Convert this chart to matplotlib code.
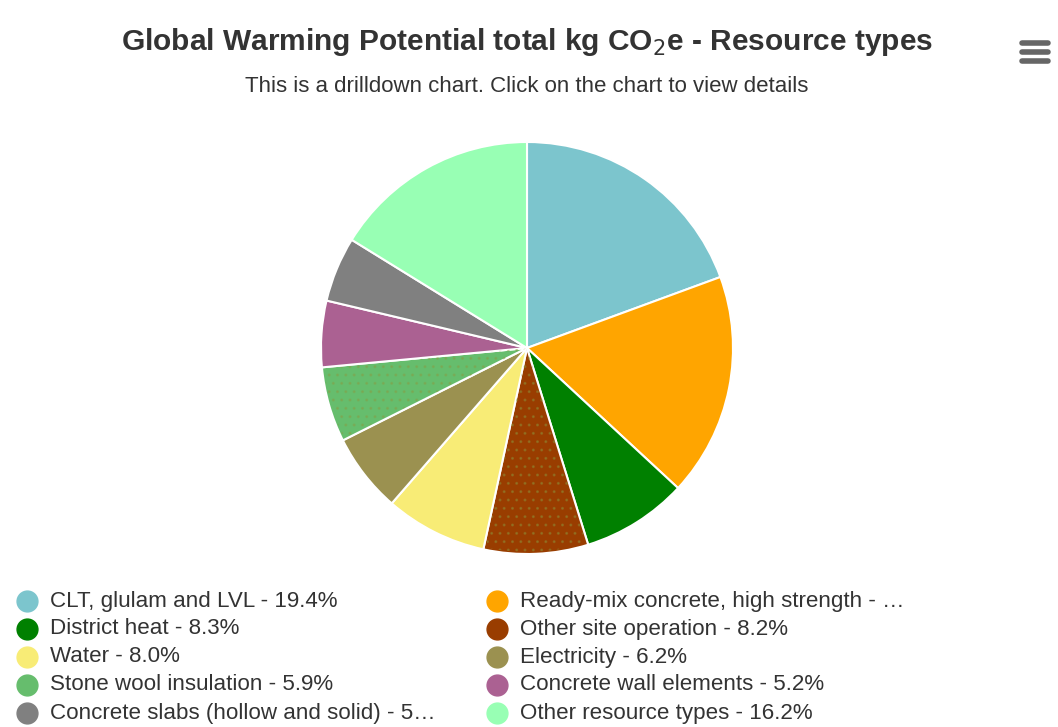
import matplotlib
matplotlib.use("Agg")
import matplotlib.pyplot as plt
from matplotlib.patches import Wedge
from matplotlib.lines import Line2D

plt.rcParams["font.family"] = ["Liberation Sans", "DejaVu Sans"]

resources = [
    "CLT, glulam and LVL",
    "Ready-mix concrete, high strength",
    "District heat",
    "Other site operation",
    "Water",
    "Electricity",
    "Stone wool insulation",
    "Concrete wall elements",
    "Concrete slabs (hollow and solid)",
    "Other resource types",
]
shares = [19.4, 17.5, 8.3, 8.2, 8.0, 6.2, 5.9, 5.2, 5.1, 16.2]
colors = ["#7cc5cd", "#ffa500", "#008000", "#993d00", "#f8ec76",
          "#9b9150", "#66bd6d", "#ab6192", "#808080", "#98ffb4"]
dotted = ["Other site operation", "Stone wool insulation"]
legend_labels = [
    "CLT, glulam and LVL - 19.4%",
    "Ready-mix concrete, high strength - \u2026",
    "District heat - 8.3%",
    "Other site operation - 8.2%",
    "Water - 8.0%",
    "Electricity - 6.2%",
    "Stone wool insulation - 5.9%",
    "Concrete wall elements - 5.2%",
    "Concrete slabs (hollow and solid) - 5\u2026",
    "Other resource types - 16.2%",
]

W, H = 1058, 727
fig = plt.figure(figsize=(W / 100, H / 100), dpi=100)

# pie area
cx, cy, r = 527, 348, 206
ax = fig.add_axes([(cx - r) / W, 1 - (cy + r) / H, 2 * r / W, 2 * r / H])
wedges, _ = ax.pie(shares, colors=colors, startangle=90, counterclock=False,
                   radius=1, wedgeprops=dict(edgecolor="white", linewidth=1.5))
for w, name in zip(wedges, resources):
    if name in dotted:
        dots = Wedge(w.center, w.r * 0.99, w.theta1 + 0.5, w.theta2 - 0.5,
                     facecolor="none", edgecolor="#8a9a40", linewidth=0,
                     hatch="..", alpha=0.35)
        ax.add_patch(dots)
ax.set_xlim(-1, 1)
ax.set_ylim(-1, 1)
ax.set_aspect("equal")
ax.axis("off")

# titles
fig.text(527 / W, 1 - 42 / H, "Global Warming Potential total kg CO$_2$e - Resource types",
         ha="center", va="center", fontsize=21.5, fontweight="bold", color="#333333")
fig.text(527 / W, 1 - 86 / H, "This is a drilldown chart. Click on the chart to view details",
         ha="center", va="center", fontsize=16, color="#333333")

# menu icon
for yy in (43, 52, 61):
    fig.add_artist(Line2D([1022 / W, 1048 / W], [1 - yy / H, 1 - yy / H],
                          color="#666666", linewidth=4, solid_capstyle="round"))

# legend
for i, (lab, col) in enumerate(zip(legend_labels, colors)):
    row, colm = divmod(i, 2)
    x0 = 27 if colm == 0 else 497
    y0 = 601 + row * 28
    fig.add_artist(Line2D([x0 / W], [1 - y0 / H], marker="o", markersize=15,
                          color=col, linestyle="none"))
    fig.text((x0 + 23) / W, 1 - y0 / H, lab, ha="left", va="center",
             fontsize=16.1, color="#333333")

fig.savefig("out.png", dpi=100, facecolor="white")
